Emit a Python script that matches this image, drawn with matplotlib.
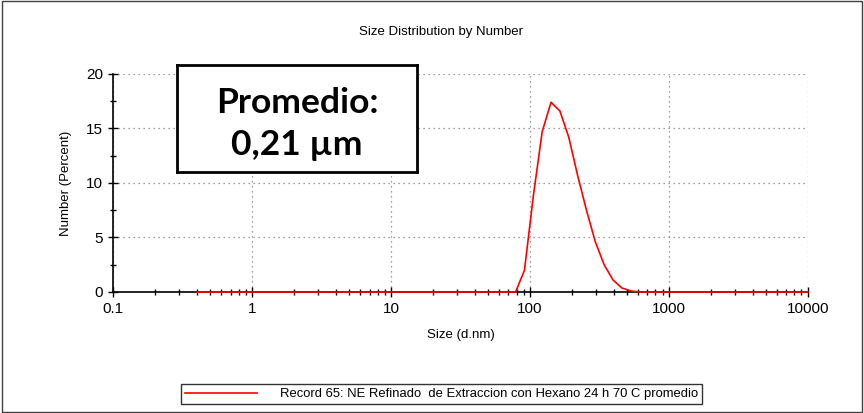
import numpy as np
import matplotlib
matplotlib.use("Agg")
import matplotlib.pyplot as plt
from matplotlib.ticker import LogLocator, NullFormatter, FixedLocator, FixedFormatter
from matplotlib.patches import Rectangle

plt.rcParams['font.family'] = ['Liberation Sans', 'DejaVu Sans']

# Zetasizer bins: 70 log-spaced sizes from 0.4 to 10000 nm
sizes = 0.4 * (10000 / 0.4) ** (np.arange(70) / 69)
peak_bins = [37, 38, 39, 40, 41, 42, 43, 44, 45, 46, 47, 48, 49]
peak_vals = [2.0, 8.8, 14.7, 17.4, 16.6, 14.2, 10.7, 7.5, 4.6, 2.5, 1.1, 0.37, 0.1]
number_pct = np.zeros(70)
number_pct[peak_bins] = peak_vals

x_ticks = [0.1, 1, 10, 100, 1000, 10000]
x_labels = ["0.1", "1", "10", "100", "1000", "10000"]
y_ticks = [0, 5, 10, 15, 20]

title = "Size Distribution by Number"
legend_label = "Record 65: NE Refinado  de Extraccion con Hexano 24 h 70 C promedio"
box_text = "Promedio:\n0,21 µm"

fig = plt.figure(figsize=(8.64, 4.13), dpi=100)
ax = fig.add_axes([0.131, 0.293, 0.804, 0.528])

ax.plot(sizes, number_pct, color='red', lw=1.2, zorder=3, clip_on=False)
ax.set_xscale('log')
ax.set_xlim(0.1, 10000)
ax.set_ylim(0, 20)

ax.xaxis.set_major_locator(FixedLocator(x_ticks))
ax.xaxis.set_major_formatter(FixedFormatter(x_labels))
ax.xaxis.set_minor_locator(LogLocator(base=10, subs=np.arange(2, 10)))
ax.xaxis.set_minor_formatter(NullFormatter())
ax.set_yticks(y_ticks)
ax.set_yticks(np.arange(0, 20.1, 2.5), minor=True)

ax.tick_params(axis='both', which='major', direction='inout', length=7, width=1, labelsize=11, pad=4)
ax.tick_params(axis='both', which='minor', direction='inout', length=5, width=1)
for s in ['top', 'right']:
    ax.spines[s].set_visible(False)
for s in ['left', 'bottom']:
    ax.spines[s].set_linewidth(1.2)

ax.grid(True, which='major', color='#808080', linestyle=(0, (1, 3)), linewidth=0.9)

ax.set_xlabel("Size (d.nm)", fontsize=9.5, labelpad=9)
ax.set_ylabel("Number (Percent)", fontsize=9.5, labelpad=10)
fig.text(441 / 864, 1 - 32 / 413, title, ha='center', va='center', fontsize=9.5)

# annotation box
ax_box = fig.add_axes([177 / 864, 1 - 172 / 413, 240 / 864, 107 / 413])
ax_box.set_xticks([])
ax_box.set_yticks([])
for s in ax_box.spines.values():
    s.set_linewidth(2)
    s.set_color('black')
ax_box.text(0.5, 0.45, box_text, ha='center', va='center', fontsize=25.5,
            fontweight='bold', family=['Lato', 'DejaVu Sans'], linespacing=1.38,
            transform=ax_box.transAxes)

# legend
handle, = ax.plot([], [], color='red', lw=1.2)
leg = fig.legend([handle], [legend_label], loc='center',
                 bbox_to_anchor=(441.5 / 864, 1 - 394 / 413), fontsize=9.4,
                 frameon=True, fancybox=False, edgecolor='black',
                 handlelength=5.5, handletextpad=1.8, borderpad=0.3, borderaxespad=0)
leg.get_frame().set_linewidth(1)

fig.patches.append(Rectangle((0.002, 0.003), 0.996, 0.994, transform=fig.transFigure,
                             fill=False, edgecolor='#404040', linewidth=1))

fig.savefig("out.png", dpi=100)
